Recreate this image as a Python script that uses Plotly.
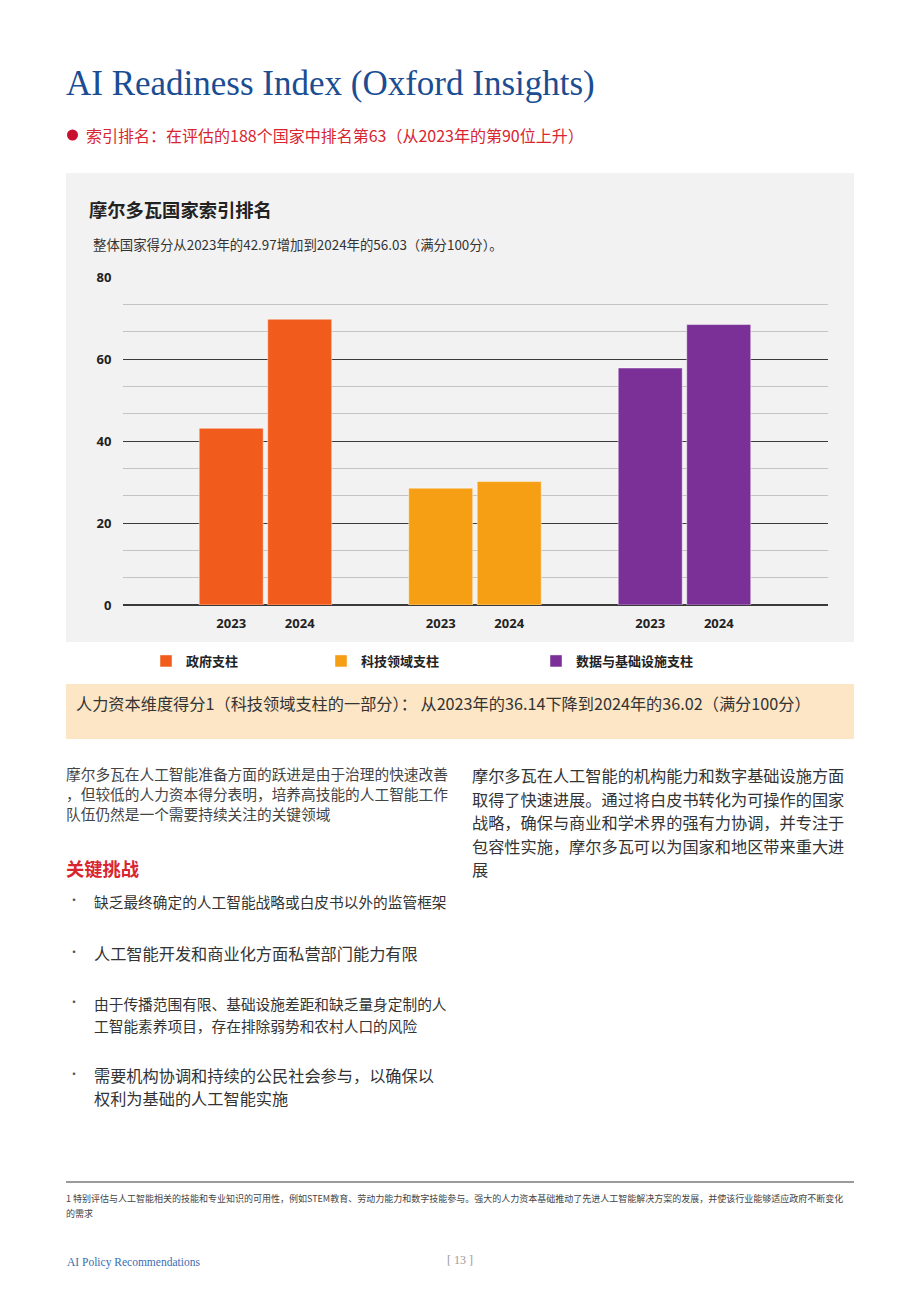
import plotly.graph_objects as go

# ---- data ----
pillars = ["政府支柱", "科技领域支柱", "数据与基础设施支柱"]
years = ["2023", "2024"]
scores_2023 = [43.1, 28.5, 57.8]
scores_2024 = [69.7, 30.1, 68.4]
y_ticks = [0, 20, 40, 60, 80]

# ---- style ----
W, H = 920, 1302
pillar_colors = ["#F15C1C", "#F69E14", "#7A3096"]
CJK = "Noto Sans CJK SC"
SERIF = "Liberation Serif"


def px(x):
    return x / W


def py(y):
    return 1 - y / H


fig = go.Figure()

bar_offset = 0.1635
bar_width = 0.3055
legend_names = ["legend", "legend2", "legend3"]
for i, (name, col) in enumerate(zip(pillars, pillar_colors)):
    xs = [i - bar_offset, i + bar_offset]
    fig.add_trace(go.Bar(
        x=xs, y=[scores_2023[i], scores_2024[i]], width=bar_width,
        name=name, marker=dict(color=col, line=dict(color="rgba(255,255,255,0.45)", width=1)),
        legend=legend_names[i], hovertemplate="%{y}<extra>" + name + "</extra>",
    ))

tickvals = []
ticktext = []
for i in range(len(pillars)):
    for j, yr in enumerate(years):
        tickvals.append(i + (-bar_offset if j == 0 else bar_offset))
        ticktext.append(yr)

shapes = [
    # grey chart panel
    dict(type="rect", xref="paper", yref="paper", x0=px(66), x1=px(854), y0=py(642), y1=py(173),
         fillcolor="#F2F2F2", line=dict(width=0), layer="below"),
    # beige box
    dict(type="rect", xref="paper", yref="paper", x0=px(66), x1=px(854), y0=py(739), y1=py(684),
         fillcolor="#FCE6C6", line=dict(width=0), layer="below"),
    # red bullet
    dict(type="circle", xref="paper", yref="paper", x0=px(67), x1=px(78), y0=py(140.5), y1=py(129.5),
         fillcolor="#C8102E", line=dict(width=0)),
    # footer rule
    dict(type="line", xref="paper", yref="paper", x0=px(66), x1=px(854), y0=py(1182), y1=py(1182),
         line=dict(color="#7a7a7a", width=1.5)),
]

ann = []


def text(x, y, s, size, color, family=CJK, weight="normal", xanchor="left"):
    ann.append(dict(x=px(x), y=py(y), xref="paper", yref="paper", text=s, showarrow=False,
                    xanchor=xanchor, yanchor="middle", align="left",
                    font=dict(size=size, color=color, family=family, weight=weight)))


text(64, 84, "AI Readiness Index (Oxford Insights)", 35, "#1B4D92", family=SERIF)
text(84, 135, "索引排名：在评估的188个国家中排名第63（从2023年的第90位上升）", 16, "#D8252F")
text(87, 209, "摩尔多瓦国家索引排名", 18.3, "#222222", weight="bold")
text(91, 244, "整体国家得分从2023年的42.97增加到2024年的56.03（满分100分）。", 13.4, "#333333")
text(74, 703, "人力资本维度得分1（科技领域支柱的一部分）： 从2023年的36.14下降到2024年的36.02（满分100分）", 16.2, "#333333")

left_para = ["摩尔多瓦在人工智能准备方面的跃进是由于治理的快速改善",
             "，但较低的人力资本得分表明，培养高技能的人工智能工作",
             "队伍仍然是一个需要持续关注的关键领域"]
for k, line in enumerate(left_para):
    text(64, 773 + k * 20.3, line, 14.7, "#444444")

right_para = ["摩尔多瓦在人工智能的机构能力和数字基础设施方面",
              "取得了快速进展。通过将白皮书转化为可操作的国家",
              "战略，确保与商业和学术界的强有力协调，并专注于",
              "包容性实施，摩尔多瓦可以为国家和地区带来重大进",
              "展"]
for k, line in enumerate(right_para):
    text(470, 775 + k * 23.5, line, 16.2, "#333333")

text(64, 868, "关键挑战", 18.3, "#D8252F", weight="bold")

bullets = [
    (["缺乏最终确定的人工智能战略或白皮书以外的监管框架"], 901.5, 14.7),
    (["人工智能开发和商业化方面私营部门能力有限"], 953, 16.2),
    (["由于传播范围有限、基础设施差距和缺乏量身定制的人", "工智能素养项目，存在排除弱势和农村人口的风险"], 1003, 14.7),
    (["需要机构协调和持续的公民社会参与，以确保以", "权利为基础的人工智能实施"], 1075, 16.2),
]
for lines, y0, size in bullets:
    text(66, y0 - 2, "·", 12, "#555555")
    step = 22 if size < 15 else 22.5
    for k, line in enumerate(lines):
        text(92, y0 + k * step, line, size, "#333333")

text(64, 1198, "1 特别评估与人工智能相关的技能和专业知识的可用性，例如STEM教育、劳动力能力和数字技能参与。强大的人力资本基础推动了先进人工智能解决方案的发展，并使该行业能够适应政府不断变化",
     9, "#444444")
text(64, 1213, "的需求", 9, "#444444")
text(65, 1262, "AI Policy Recommendations", 11.5, "#3A6DB0", family=SERIF)
text(460, 1260, "[ 13 ]", 12, "#9a9a9a", family=SERIF, xanchor="center")

legend_x = [146, 321, 536]
legend_common = dict(orientation="h", yanchor="middle", xanchor="left", y=py(661),
                     bgcolor="rgba(0,0,0,0)", borderwidth=0,
                     font=dict(family=CJK, size=13, color="#222222", weight="bold"),
                     itemwidth=30)

fig.update_layout(
    width=W, height=H,
    margin=dict(l=0, r=0, t=0, b=0, autoexpand=False),
    paper_bgcolor="white", plot_bgcolor="rgba(0,0,0,0)",
    barmode="overlay",
    showlegend=True,
    legend=dict(x=px(legend_x[0]), **legend_common),
    legend2=dict(x=px(legend_x[1]), **legend_common),
    legend3=dict(x=px(legend_x[2]), **legend_common),
    xaxis=dict(domain=[px(123), px(828)], range=[-0.680, 2.685], automargin=False,
               tickmode="array", tickvals=tickvals, ticktext=ticktext,
               ticks="outside", ticklen=6, tickcolor="rgba(0,0,0,0)",
               tickfont=dict(family="Open Sans", size=13, color="#222222", weight="bold"),
               showgrid=False, zeroline=False, showline=False, fixedrange=True),
    yaxis=dict(domain=[py(605), py(277)], range=[0, 80], automargin=False,
               tickmode="array", tickvals=y_ticks,
               ticks="outside", ticklen=8, tickcolor="rgba(0,0,0,0)",
               tickfont=dict(family="Open Sans", size=13, color="#222222", weight="bold"),
               showgrid=True, gridcolor="#3a3a3a", gridwidth=1.3,
               zeroline=True, zerolinecolor="#3a3a3a", zerolinewidth=1.5,
               minor=dict(tick0=0, dtick=20 / 3, showgrid=True, gridcolor="#c4c4c4", gridwidth=1.2),
               showline=False, fixedrange=True),
    shapes=shapes,
    annotations=ann,
)

fig.write_html("out.html")
